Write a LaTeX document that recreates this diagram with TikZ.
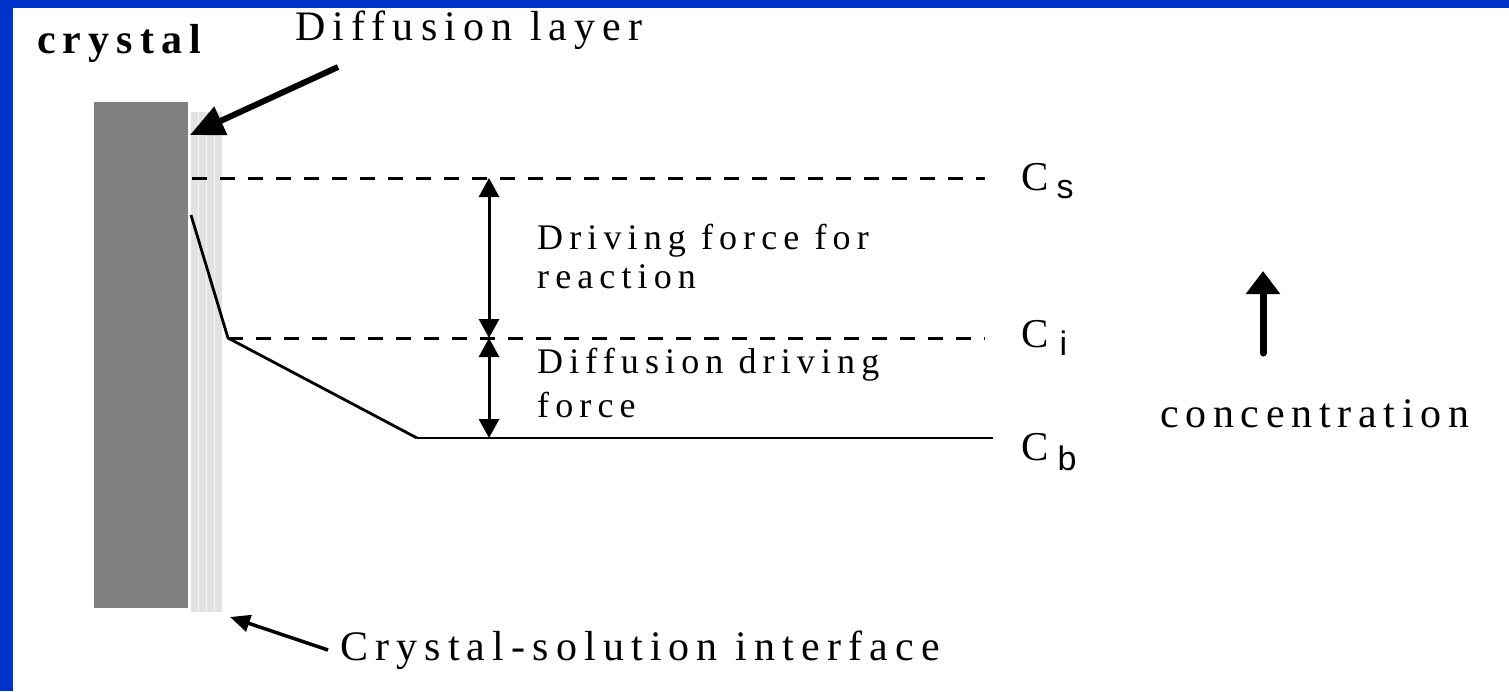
\documentclass[tikz,border=0pt]{standalone}
\usepackage{fontspec}
\setmainfont{Liberation Serif}
\newfontfamily\lsf[LetterSpace=17]{Liberation Serif}
\newfontfamily\lsfc[LetterSpace=16]{Liberation Serif}
\newfontfamily\subf{Liberation Sans}
\usetikzlibrary{arrows.meta}
\definecolor{frameblue}{HTML}{0033CC}
\definecolor{crystalgray}{HTML}{808080}
\definecolor{layergray}{HTML}{E2E2E2}
\begin{document}
\begin{tikzpicture}[x=1pt,y=-1pt,
  txt/.style={inner sep=0pt,anchor=base west,font=\lsf},
  dashline/.style={line width=3pt,dash pattern=on 15pt off 13pt},
  solidline/.style={line width=2.8pt},
  dblarrow/.style={line width=3pt,{Triangle[length=19pt,width=20pt]}-{Triangle[length=19pt,width=20pt]}},
  bigarrow/.style={line width=6pt,-{Triangle[length=34pt,width=30pt]}},
  smallarrow/.style={line width=3.5pt,-{Triangle[length=20pt,width=17pt]}},
  concarrow/.style={line width=7pt,line cap=round,-{Triangle[length=23pt,width=33pt]}},
  clabel/.style={inner sep=0pt,anchor=base west}
]
\useasboundingbox (0,0) rectangle (1509,691);
\fill[frameblue] (0,0) rectangle (1509,691);
\fill[white] (13,8) rectangle (1509,691);
% crystal and diffusion layer
\fill[crystalgray] (94,102) rectangle (188,608);
\fill[layergray] (191,112) rectangle (222,612);
\foreach \xx in {198.5,206.5,214.5}
  \draw[white!70!layergray,line width=1pt] (\xx,112) -- (\xx,612);
% labels
\node[txt,font=\lsf\bfseries\fontsize{42}{46}\selectfont] (crys) at (37,53) {crystal};
\node[txt,font=\lsf\fontsize{42}{46}\selectfont] (dlayer) at (295,40) {Diffusion layer};
\node[txt,font=\lsf\fontsize{36}{39}\selectfont,align=left] (dfr) at (537,288) {Driving force for\\reaction};
\node[txt,font=\lsf\fontsize{36}{44}\selectfont,align=left] (ddf) at (537,417) {Diffusion driving\\force};
\node[txt,font=\lsfc\fontsize{42}{46}\selectfont] (conc) at (1160,427) {concentration};
\node[txt,font=\lsf\fontsize{42}{46}\selectfont] (csi) at (340,660) {Crystal-solution interface};
\node[clabel] (cs) at (1021,190) {\fontsize{41}{42}\selectfont C\hspace{8pt}\raisebox{-8pt}{\subf\fontsize{34}{36}\selectfont s}};
\node[clabel] (ci) at (1021,347) {\fontsize{41}{42}\selectfont C\hspace{11pt}\raisebox{-8pt}{\subf\fontsize{34}{36}\selectfont i}};
\node[clabel] (cb) at (1021,460) {\fontsize{41}{42}\selectfont C\hspace{9pt}\raisebox{-10pt}{\subf\fontsize{34}{36}\selectfont b}};
% coordinates
\coordinate (csL) at (192,178); \coordinate (csR) at (985,178);
\coordinate (ciL) at (228,338); \coordinate (ciR) at (985,338);
\coordinate (cbL) at (417,438); \coordinate (cbR) at (993,438);
\coordinate (p0) at (191,215);
\coordinate (as) at (489,178); \coordinate (ai) at (489,338); \coordinate (ab) at (489,438);
\coordinate (dlTail) at (338,67); \coordinate (dlTip) at (190,135);
\coordinate (ifTail) at (328,650); \coordinate (ifTip) at (230,617);
\coordinate (cTail) at (1263,353); \coordinate (cTip) at (1263,271);
% lines
\draw[dashline] (csL) -- (csR);
\draw[dashline] (ciL) -- (ciR);
\draw[solidline] (cbL) -- (cbR);
\draw[solidline,line join=miter] (p0) -- (ciL) -- (cbL);
\draw[dblarrow] (as) -- (ai);
\draw[dblarrow] (ai) -- (ab);
\draw[bigarrow] (dlTail) -- (dlTip);
\draw[smallarrow] (ifTail) -- (ifTip);
\draw[concarrow] (cTail) -- (cTip);
\end{tikzpicture}
\end{document}
